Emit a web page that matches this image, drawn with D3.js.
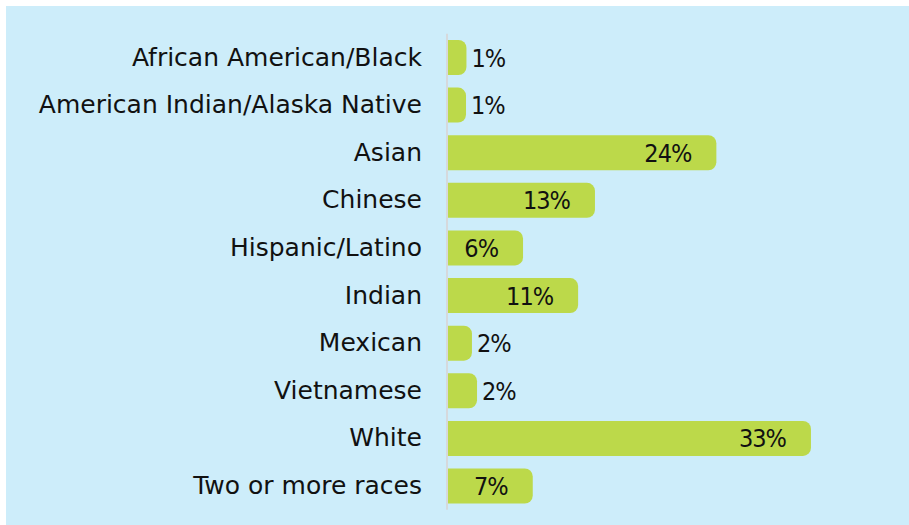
<!DOCTYPE html>
<html>
<head>
<meta charset="utf-8">
<script src="https://cdn.jsdelivr.net/npm/d3@7"></script>
<style>
  body { margin: 0; background: #ffffff; }
</style>
</head>
<body>
<div id="chart"></div>
<script>
// categories, top to bottom
const categories = [
  'African American/Black',
  'American Indian/Alaska Native',
  'Asian',
  'Chinese',
  'Hispanic/Latino',
  'Indian',
  'Mexican',
  'Vietnamese',
  'White',
  'Two or more races'
];

// share of students, percent
const shares = [1.06, 1.02, 24.2, 12.96, 6.3, 11.4, 1.57, 2.04, 32.96, 7.2];

const width = 909;
const height = 525;
const axisX = 447;
const radius = 8;

const svg = d3.select('#chart').append('svg')
  .attr('width', width)
  .attr('height', height);

// panel background
svg.append('rect')
  .attr('x', 6)
  .attr('y', 6)
  .attr('width', width - 6)
  .attr('height', height - 6)
  .attr('fill', '#cdedfa');

const data = categories.map((c, i) => ({ name: c, value: shares[i] }));

const xScale = d3.scaleLinear()
  .domain([0, 33])
  .range([0, 356.4]);

const yScale = d3.scaleBand()
  .domain(categories)
  .range([33.7, 509.8])
  .paddingInner(0.265)
  .paddingOuter(0.1325);

const fmt = d3.format('.0f');

// bar with square left end and rounded right end
function barPath(d) {
  const x0 = axisX;
  const x1 = axisX + xScale(d.value) + radius;
  const y0 = yScale(d.name);
  const h = yScale.bandwidth();
  const r = Math.min(radius, (x1 - x0) / 2);
  return 'M' + x0 + ',' + y0 +
    'H' + (x1 - r) +
    'A' + r + ',' + r + ' 0 0 1 ' + x1 + ',' + (y0 + r) +
    'V' + (y0 + h - r) +
    'A' + r + ',' + r + ' 0 0 1 ' + (x1 - r) + ',' + (y0 + h) +
    'H' + x0 + 'Z';
}

const g = svg.append('g');

g.selectAll('.bar')
  .data(data)
  .enter().append('path')
    .attr('class', 'bar')
    .attr('d', barPath)
    .attr('fill', '#bcd94a');

// category axis
const yAxis = d3.axisLeft(yScale).tickSize(0).tickPadding(25);

const axisG = g.append('g')
  .attr('transform', 'translate(' + axisX + ',0)')
  .call(yAxis);

axisG.select('.domain')
  .attr('stroke', '#d6d9dc')
  .attr('stroke-width', 2)
  .attr('d', 'M0,' + yScale.range()[0] + 'V' + yScale.range()[1]);

axisG.selectAll('text')
  .attr('font-family', 'DejaVu Sans, sans-serif')
  .attr('font-size', 25)
  .attr('fill', '#111111');

// value labels
g.selectAll('.value')
  .data(data)
  .enter().append('text')
    .attr('class', 'value')
    .attr('x', (d) => {
      const end = axisX + xScale(d.value) + radius;
      return xScale(d.value) > 40 ? end - 25 : end + 5;
    })
    .attr('y', (d) => yScale(d.name) + yScale.bandwidth() / 2)
    .attr('dy', '0.36em')
    .attr('text-anchor', (d) => xScale(d.value) > 40 ? 'end' : 'start')
    .attr('font-family', '"Liberation Sans Narrow", "DejaVu Sans Condensed", sans-serif')
    .attr('font-size', 25)
    .attr('letter-spacing', '-1px')
    .attr('fill', '#111111')
    .text((d) => fmt(d.value) + '%');
</script>
</body>
</html>
